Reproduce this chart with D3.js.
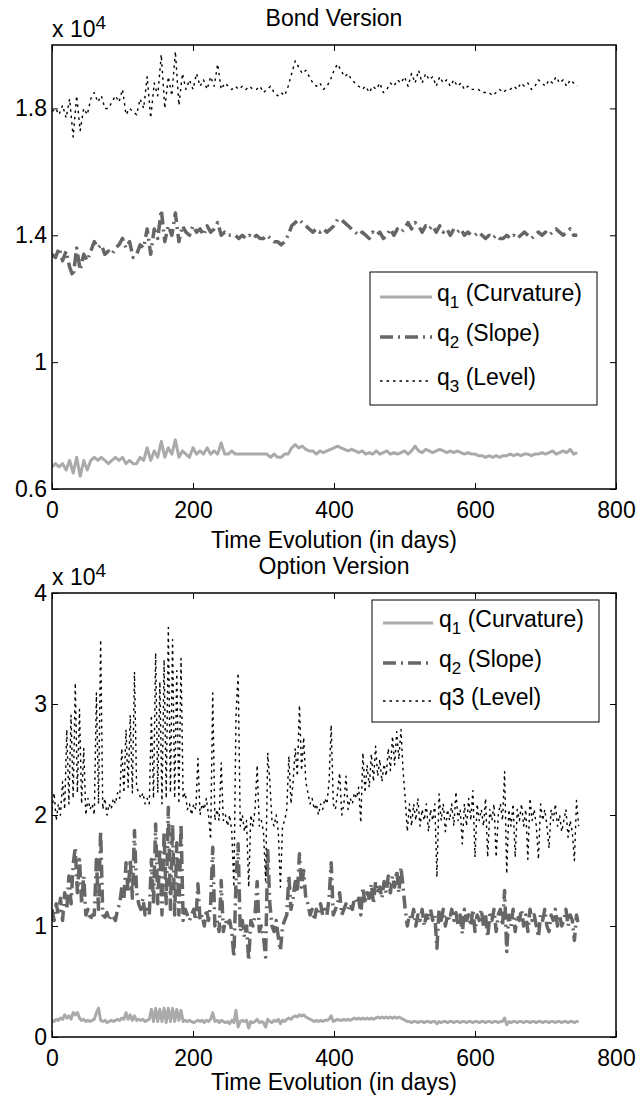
<!DOCTYPE html>
<html><head><meta charset="utf-8">
<script src="https://cdn.jsdelivr.net/npm/d3@7/dist/d3.min.js"></script>
<style>body{margin:0;background:#fff}svg{display:block}</style>
</head><body>
<script>
// ---- data (values in units of 10^4) ----
const bondDays = d3.range(0, 750, 5);
const optDays = d3.range(0, 750, 3);
const xTicks = [0, 200, 400, 600, 800];
const bondYTicks = [0.6, 1, 1.4, 1.8];
const optYTicks = [0, 1, 2, 3, 4];
const legendLabels = ["(Curvature)", "(Slope)", "(Level)"];

const bondQ1 = [0.67,0.68,0.67,0.68,0.66,0.69,0.65,0.70,0.64,0.69,0.66,0.69,0.70,0.69,0.70,0.69,0.68,0.69,0.70,0.69,
0.70,0.68,0.69,0.68,0.68,0.70,0.69,0.73,0.69,0.72,0.70,0.75,0.70,0.73,0.71,0.755,0.70,0.72,0.71,0.70,
0.73,0.71,0.72,0.71,0.73,0.71,0.72,0.71,0.745,0.71,0.71,0.72,0.71,0.71,0.71,0.71,0.71,0.71,0.71,0.71,
0.71,0.71,0.70,0.71,0.70,0.70,0.71,0.71,0.73,0.74,0.73,0.735,0.725,0.72,0.72,0.71,0.72,0.715,0.72,0.725,
0.73,0.735,0.73,0.725,0.72,0.725,0.72,0.715,0.72,0.71,0.715,0.71,0.72,0.71,0.715,0.72,0.71,0.715,0.71,0.715,
0.72,0.71,0.72,0.735,0.72,0.715,0.725,0.72,0.715,0.72,0.725,0.72,0.715,0.72,0.715,0.72,0.715,0.71,0.715,0.71,
0.71,0.705,0.705,0.70,0.705,0.70,0.705,0.70,0.705,0.705,0.71,0.705,0.71,0.705,0.71,0.71,0.705,0.71,0.71,0.715,
0.71,0.715,0.72,0.71,0.715,0.72,0.715,0.725,0.71,0.715];
const bondQ2 = [1.34,1.33,1.36,1.32,1.35,1.30,1.27,1.36,1.29,1.34,1.32,1.35,1.38,1.36,1.37,1.34,1.35,1.34,1.36,1.37,
1.39,1.36,1.38,1.33,1.34,1.37,1.36,1.42,1.34,1.42,1.39,1.48,1.38,1.43,1.40,1.47,1.38,1.43,1.41,1.40,
1.43,1.41,1.42,1.40,1.43,1.41,1.42,1.44,1.40,1.41,1.40,1.40,1.40,1.39,1.40,1.39,1.40,1.39,1.40,1.39,
1.39,1.40,1.39,1.38,1.38,1.37,1.38,1.40,1.43,1.44,1.45,1.44,1.43,1.42,1.41,1.42,1.41,1.42,1.41,1.42,
1.43,1.45,1.45,1.44,1.43,1.42,1.41,1.40,1.41,1.40,1.39,1.41,1.40,1.41,1.39,1.40,1.42,1.40,1.42,1.41,
1.42,1.44,1.42,1.44,1.43,1.41,1.43,1.42,1.43,1.41,1.43,1.41,1.42,1.40,1.42,1.41,1.42,1.40,1.41,1.40,
1.40,1.41,1.40,1.39,1.40,1.39,1.40,1.39,1.39,1.40,1.39,1.40,1.39,1.40,1.41,1.40,1.39,1.40,1.41,1.40,
1.41,1.40,1.41,1.42,1.41,1.40,1.41,1.42,1.40,1.40];
const bondQ3 = [1.79,1.80,1.78,1.81,1.77,1.83,1.71,1.84,1.73,1.80,1.78,1.83,1.85,1.82,1.84,1.80,1.80,1.82,1.84,1.82,
1.86,1.78,1.80,1.79,1.78,1.83,1.80,1.90,1.77,1.88,1.84,1.97,1.80,1.90,1.84,1.98,1.81,1.91,1.86,1.89,
1.86,1.91,1.87,1.89,1.86,1.90,1.87,1.94,1.86,1.88,1.87,1.86,1.87,1.86,1.87,1.86,1.87,1.86,1.86,1.87,
1.85,1.86,1.87,1.85,1.84,1.85,1.84,1.87,1.91,1.95,1.93,1.91,1.92,1.90,1.88,1.87,1.88,1.86,1.87,1.89,
1.92,1.94,1.92,1.90,1.91,1.89,1.88,1.87,1.86,1.87,1.85,1.87,1.86,1.88,1.85,1.86,1.88,1.87,1.89,1.88,
1.90,1.87,1.91,1.88,1.92,1.88,1.91,1.89,1.90,1.87,1.90,1.88,1.89,1.87,1.89,1.87,1.88,1.86,1.87,1.86,
1.86,1.86,1.85,1.85,1.85,1.84,1.85,1.86,1.85,1.86,1.86,1.87,1.86,1.88,1.87,1.88,1.86,1.87,1.89,1.88,
1.87,1.89,1.88,1.90,1.88,1.89,1.87,1.89,1.88,1.87];

const optQ1 = [0.15,0.14,0.16,0.15,0.17,0.16,0.20,0.17,0.19,0.16,
0.22,0.20,0.22,0.17,0.15,0.16,0.14,0.15,0.14,0.15,
0.16,0.22,0.26,0.15,0.14,0.15,0.13,0.14,0.15,0.14,
0.15,0.16,0.15,0.17,0.16,0.22,0.16,0.20,0.15,0.19,
0.15,0.16,0.15,0.16,0.14,0.15,0.16,0.25,0.14,0.26,
0.14,0.25,0.14,0.26,0.13,0.26,0.14,0.26,0.14,0.25,
0.15,0.24,0.14,0.15,0.14,0.15,0.14,0.13,0.14,0.15,
0.14,0.15,0.13,0.15,0.14,0.16,0.22,0.14,0.15,0.13,
0.15,0.14,0.13,0.14,0.12,0.15,0.13,0.24,0.09,0.14,
0.15,0.14,0.15,0.08,0.14,0.13,0.14,0.16,0.13,0.14,
0.13,0.09,0.16,0.14,0.13,0.15,0.14,0.16,0.12,0.15,
0.14,0.16,0.17,0.16,0.18,0.19,0.18,0.20,0.19,0.20,
0.18,0.17,0.16,0.15,0.14,0.15,0.14,0.15,0.14,0.15,
0.15,0.16,0.19,0.14,0.15,0.16,0.15,0.15,0.16,0.15,
0.16,0.15,0.16,0.17,0.16,0.17,0.16,0.17,0.16,0.17,
0.16,0.17,0.16,0.17,0.18,0.17,0.18,0.17,0.18,0.17,
0.18,0.17,0.18,0.17,0.18,0.17,0.16,0.15,0.14,0.14,
0.13,0.14,0.14,0.13,0.14,0.14,0.13,0.14,0.14,0.13,
0.14,0.14,0.12,0.14,0.13,0.14,0.14,0.13,0.14,0.14,
0.13,0.14,0.14,0.13,0.14,0.14,0.13,0.14,0.14,0.13,
0.14,0.14,0.13,0.14,0.14,0.13,0.14,0.14,0.13,0.14,
0.14,0.13,0.14,0.14,0.17,0.11,0.14,0.13,0.14,0.14,
0.13,0.14,0.14,0.13,0.14,0.14,0.13,0.14,0.14,0.13,
0.14,0.14,0.13,0.14,0.14,0.13,0.14,0.14,0.13,0.14,
0.14,0.13,0.14,0.14,0.13,0.14,0.14,0.13,0.14,0.14];
const optQ2 = [1.15,1.05,1.20,1.10,1.25,1.05,1.30,1.15,1.45,1.20,
1.55,1.71,1.30,1.60,1.20,1.45,1.10,1.15,1.05,1.10,
1.10,1.60,1.15,1.86,1.10,1.08,1.12,1.05,1.10,1.08,
1.05,1.15,1.20,1.35,1.25,1.57,1.30,1.60,1.25,1.86,
1.30,1.20,1.15,1.25,1.10,1.15,1.10,1.60,1.20,1.92,
1.20,1.70,1.10,1.85,1.20,2.07,1.15,1.92,1.10,1.75,
1.10,1.92,1.05,1.15,1.10,1.05,1.10,1.15,1.05,1.38,
1.05,1.10,1.00,1.15,1.05,1.20,1.71,1.00,1.05,0.95,
1.41,0.95,1.05,1.00,1.05,0.95,0.72,1.40,1.74,0.95,
1.05,0.90,1.00,0.69,1.05,1.00,1.10,1.40,0.95,1.00,
0.90,0.72,1.68,1.20,1.00,0.95,1.05,0.90,0.78,1.00,
1.05,1.10,1.45,1.15,1.25,1.40,1.30,1.65,1.35,1.50,
1.25,1.20,1.10,1.15,1.05,1.15,1.10,1.20,1.10,1.15,
1.10,1.25,1.57,1.10,1.15,1.20,1.30,1.10,1.15,1.20,
1.15,1.20,1.15,1.25,1.20,1.25,1.10,1.35,1.20,1.30,
1.25,1.38,1.20,1.40,1.30,1.35,1.25,1.40,1.30,1.45,
1.30,1.45,1.35,1.50,1.30,1.53,1.35,1.15,1.00,1.10,
1.05,1.15,1.00,1.10,1.05,1.15,1.00,1.10,1.05,1.15,
1.05,1.10,0.80,1.15,1.05,1.15,1.00,1.10,1.05,1.15,
1.05,1.12,1.00,1.10,0.93,1.15,1.05,1.10,1.00,1.15,
0.95,1.10,1.05,1.15,1.00,1.10,0.90,1.10,1.05,1.15,
0.95,1.10,1.15,1.00,1.32,0.77,1.10,1.00,1.15,0.95,
1.10,1.05,1.15,1.00,1.10,0.95,1.15,1.05,1.10,1.00,
0.90,1.10,1.05,1.15,1.00,0.95,1.10,1.05,1.15,1.00,
1.10,1.00,1.05,1.15,1.00,1.10,1.05,0.87,1.10,1.00];
const optQ3 = [2.05,2.20,1.95,2.10,2.00,2.30,2.05,2.77,2.10,2.90,
2.15,3.19,2.20,2.95,2.10,2.60,2.00,2.15,2.05,2.10,
2.00,3.10,2.10,3.58,2.05,2.15,2.00,2.10,2.05,2.15,
2.10,2.20,2.15,2.60,2.20,2.77,2.25,2.90,2.20,3.29,
2.25,2.20,2.15,2.20,2.10,2.15,2.10,2.90,2.15,3.46,
2.20,3.20,2.10,3.40,2.15,3.69,2.20,3.58,2.15,3.30,
2.10,3.41,2.15,2.20,2.05,2.10,2.00,2.10,2.05,2.51,
2.00,2.10,2.05,2.15,2.00,1.78,3.10,1.95,2.05,1.95,
2.47,1.95,2.00,1.90,2.00,1.85,1.35,2.90,3.28,1.90,
2.00,1.85,1.95,1.35,2.00,1.90,2.05,2.45,1.90,1.95,
1.85,1.41,2.56,2.30,1.95,1.90,2.00,1.85,1.35,1.90,
1.95,2.05,2.53,2.10,2.30,2.60,2.35,2.99,2.40,2.70,
2.30,2.20,2.10,2.15,2.05,2.10,2.00,2.10,2.05,2.15,
2.10,2.30,2.81,2.10,2.05,2.20,2.38,2.00,2.10,2.35,
2.05,2.15,2.10,2.20,2.15,2.25,1.93,2.56,2.20,2.45,
2.25,2.55,2.30,2.62,2.35,2.50,2.30,2.46,2.35,2.60,
2.40,2.71,2.45,2.75,2.50,2.77,2.40,2.15,1.85,2.10,
1.90,2.10,1.95,2.15,1.90,2.05,1.95,2.10,1.85,2.05,
1.95,2.10,1.44,2.19,1.95,2.10,1.85,2.05,1.95,2.10,
1.90,2.21,1.95,2.05,1.74,2.10,1.90,2.15,1.95,2.22,
1.62,2.10,1.95,2.05,1.90,2.15,1.62,2.05,1.95,2.10,
1.62,2.00,2.10,1.95,2.39,1.47,2.05,1.90,2.10,1.62,
2.05,1.95,2.10,1.90,2.05,1.60,2.15,1.95,2.05,1.90,
1.60,2.10,1.95,2.05,1.90,1.70,2.05,1.95,2.10,1.90,
2.00,1.85,1.95,2.05,1.80,1.95,1.85,1.59,2.13,1.90];

// ---- drawing ----
const FONT = "'Liberation Sans', Arial, Helvetica, sans-serif";
const FS = 23;
const styles = [
  {color: "#aaaaaa", width: 3, dash: null},
  {color: "#666666", width: 3.5, dash: "13,5,2,5"},
  {color: "#000000", width: 1.4, dash: "2.5,4"}
];

const svg = d3.select("body").append("svg")
  .attr("width", 640).attr("height", 1099)
  .style("font-family", FONT);
svg.append("rect").attr("width", 640).attr("height", 1099).attr("fill", "#fff");

const x = d3.scaleLinear().domain([0, 800]).range([52, 616]);

function panel(cfg) {
  const y = d3.scaleLinear().domain(cfg.yDomain).range([cfg.bottom, cfg.top]);
  const g = svg.append("g");
  const clipId = "clip" + cfg.id;
  svg.append("clipPath").attr("id", clipId).append("rect")
    .attr("x", 52).attr("y", cfg.top).attr("width", 564).attr("height", cfg.bottom - cfg.top);

  const line = d3.line().x((d, i) => x(cfg.days[i])).y(d => y(d));
  const data = g.append("g").attr("clip-path", `url(#${clipId})`);
  cfg.series.forEach((s, k) => {
    const st = styles[k];
    data.append("path").datum(s)
      .attr("fill", "none").attr("stroke", st.color).attr("stroke-width", st.width)
      .attr("stroke-dasharray", st.dash).attr("stroke-linejoin", "round")
      .attr("d", line);
  });

  // axes (ticks inside, on all four sides)
  const ax = (gen, tr) => {
    const a = g.append("g").attr("transform", tr).call(gen);
    a.select(".domain").remove();
    a.selectAll("line").attr("stroke", "#000").attr("stroke-width", 1);
    a.selectAll("text").attr("fill", "#000").style("font-size", FS + "px").style("font-family", FONT);
    a.attr("font-family", null).attr("font-size", null);
    return a;
  };
  ax(d3.axisBottom(x).tickValues(xTicks).tickSizeInner(-6).tickSizeOuter(0).tickPadding(12.5).tickFormat(d3.format("d")),
     `translate(0,${cfg.bottom})`);
  ax(d3.axisTop(x).tickValues(xTicks).tickSizeInner(-6).tickSizeOuter(0).tickFormat(""),
     `translate(0,${cfg.top})`);
  ax(d3.axisLeft(y).tickValues(cfg.yTicks).tickSizeInner(-6).tickSizeOuter(0).tickPadding(5).tickFormat(d => String(d)),
     `translate(52,0)`);
  ax(d3.axisRight(y).tickValues(cfg.yTicks).tickSizeInner(-6).tickSizeOuter(0).tickFormat(""),
     `translate(616,0)`);

  g.append("rect").attr("x", 52).attr("y", cfg.top).attr("width", 564).attr("height", cfg.bottom - cfg.top)
    .attr("fill", "none").attr("stroke", "#000").attr("stroke-width", 1.5);

  // exponent label
  const ex = g.append("text").attr("x", 52).attr("y", cfg.top - 8).style("font-size", FS + "px").text("x 10");
  ex.append("tspan").attr("dy", -8).style("font-size", "19px").text("4");

  // title
  g.append("text").attr("x", 334).attr("y", cfg.top - 19).attr("text-anchor", "middle")
    .style("font-size", FS + "px").text(cfg.title);
  // x label
  g.append("text").attr("x", 334).attr("y", cfg.xlabelY).attr("text-anchor", "middle")
    .style("font-size", FS + "px").text("Time Evolution (in days)");

  // legend
  const L = cfg.legend;
  const lg = g.append("g");
  lg.append("rect").attr("x", L.x0).attr("y", L.y0).attr("width", L.x1 - L.x0).attr("height", L.y1 - L.y0)
    .attr("fill", "#fff").attr("stroke", "#000").attr("stroke-width", 1);
  L.rows.forEach((ry, k) => {
    const st = styles[k];
    lg.append("line").attr("x1", L.lx0).attr("x2", L.lx1).attr("y1", ry).attr("y2", ry)
      .attr("stroke", st.color).attr("stroke-width", st.width).attr("stroke-dasharray", st.dash);
    const t = lg.append("text").attr("x", L.tx).attr("y", ry + 4).style("font-size", FS + "px");
    if (cfg.subs[k]) {
      t.append("tspan").text("q");
      t.append("tspan").attr("dy", 7).style("font-size", "17px").text(String(k + 1));
      t.append("tspan").attr("dy", -7).text(" " + legendLabels[k]);
    } else {
      t.text("q" + (k + 1) + " " + legendLabels[k]);
    }
  });
}

panel({id: 1, top: 45, bottom: 489, yDomain: [0.6, 2.0], yTicks: bondYTicks, days: bondDays,
  series: [bondQ1, bondQ2, bondQ3], title: "Bond Version", xlabelY: 548,
  subs: [true, true, true],
  legend: {x0: 370, y0: 272, x1: 597, y1: 405, lx0: 380, lx1: 432, tx: 437, rows: [297, 337, 381]}});
panel({id: 2, top: 593, bottom: 1037, yDomain: [0, 4], yTicks: optYTicks, days: optDays,
  series: [optQ1, optQ2, optQ3], title: "Option Version", xlabelY: 1090,
  subs: [true, true, false],
  legend: {x0: 372, y0: 600, x1: 599, y1: 722, lx0: 383, lx1: 433, tx: 439, rows: [623, 663, 701]}});
</script>
</body></html>
